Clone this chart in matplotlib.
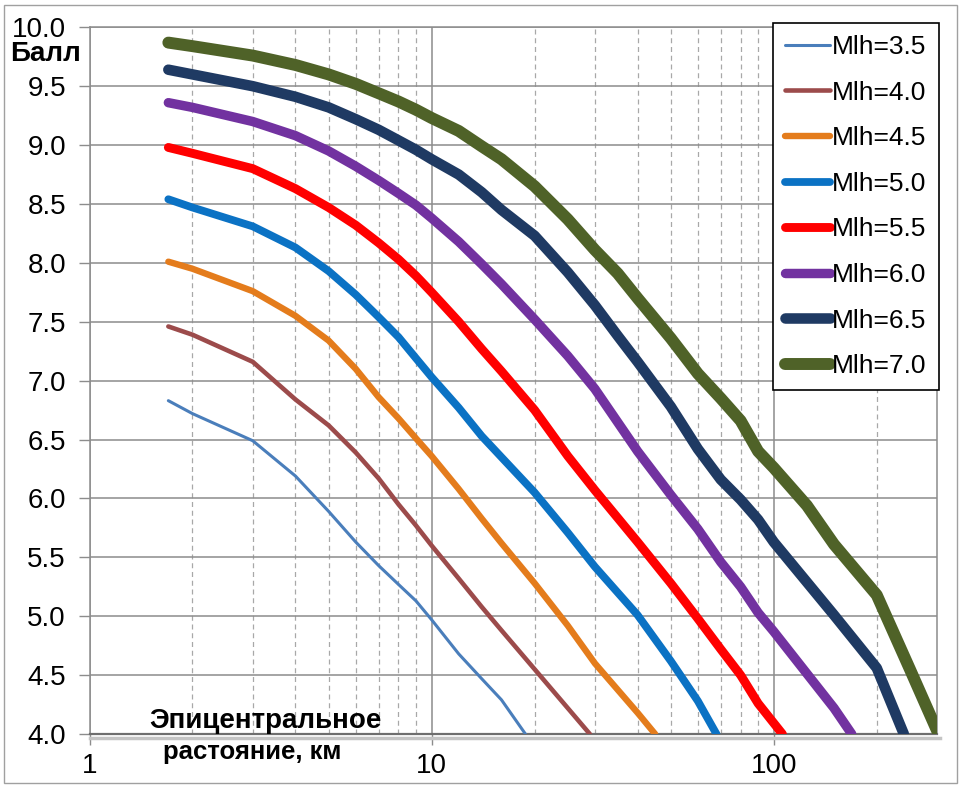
import matplotlib
matplotlib.use('Agg')
import matplotlib.pyplot as plt
import numpy as np
from matplotlib.ticker import FixedLocator, NullFormatter
from matplotlib.patches import Rectangle
from matplotlib.lines import Line2D

plt.rcParams['font.family'] = ['Liberation Sans', 'DejaVu Sans']

# Distances (km) and intensity (ball) for each magnitude
dist_35 = [1.7, 2, 3, 4, 5, 6, 7, 8, 9, 10, 12, 14, 16, 18.8]
ball_35 = [6.83, 6.72, 6.49, 6.19, 5.89, 5.63, 5.43, 5.27, 5.13, 4.97, 4.68, 4.47, 4.29, 4.0]

dist_40 = [1.7, 2, 3, 4, 5, 6, 7, 8, 9, 10, 12, 14, 16, 20, 29]
ball_40 = [7.46, 7.39, 7.16, 6.84, 6.62, 6.39, 6.17, 5.95, 5.77, 5.60, 5.32, 5.08, 4.88, 4.55, 4.0]

dist_45 = [1.7, 2, 3, 4, 5, 6, 7, 8, 9, 10, 12, 14, 16, 20, 25, 30, 40, 45]
ball_45 = [8.01, 7.95, 7.76, 7.55, 7.34, 7.10, 6.86, 6.68, 6.51, 6.36, 6.08, 5.83, 5.62, 5.28, 4.92, 4.60, 4.18, 4.0]

dist_50 = [1.7, 2, 3, 4, 5, 6, 7, 8, 9, 10, 12, 14, 16, 20, 25, 30, 40, 50, 60, 68]
ball_50 = [8.54, 8.47, 8.31, 8.13, 7.93, 7.73, 7.54, 7.37, 7.19, 7.03, 6.77, 6.53, 6.35, 6.05, 5.71, 5.42, 5.01, 4.62, 4.28, 4.0]

dist_55 = [1.7, 2, 3, 4, 5, 6, 7, 8, 9, 10, 12, 14, 16, 20, 25, 30, 40, 50, 60, 70, 80, 90, 106]
ball_55 = [8.98, 8.93, 8.80, 8.63, 8.47, 8.32, 8.17, 8.03, 7.89, 7.75, 7.50, 7.27, 7.08, 6.75, 6.36, 6.07, 5.63, 5.28, 4.98, 4.72, 4.50, 4.26, 4.0]

dist_60 = [1.7, 2, 3, 4, 5, 6, 7, 8, 9, 10, 12, 14, 16, 20, 25, 30, 40, 50, 60, 70, 80, 90, 100, 150, 169]
ball_60 = [9.36, 9.32, 9.20, 9.08, 8.95, 8.82, 8.70, 8.59, 8.49, 8.38, 8.18, 7.99, 7.82, 7.52, 7.21, 6.93, 6.40, 6.03, 5.74, 5.46, 5.25, 5.03, 4.87, 4.22, 4.0]

dist_65 = [1.7, 2, 3, 4, 5, 6, 7, 8, 9, 10, 12, 14, 16, 20, 25, 30, 35, 40, 50, 60, 70, 80, 90, 100, 150, 200, 240]
ball_65 = [9.64, 9.60, 9.50, 9.41, 9.32, 9.22, 9.13, 9.04, 8.96, 8.88, 8.75, 8.60, 8.45, 8.23, 7.92, 7.64, 7.38, 7.16, 6.78, 6.42, 6.16, 5.99, 5.82, 5.63, 5.01, 4.56, 4.0]

dist_70 = [1.7, 2, 3, 4, 5, 6, 7, 8, 9, 10, 12, 14, 16, 20, 25, 30, 35, 40, 50, 60, 70, 80, 90, 100, 125, 150, 200, 250, 300]
ball_70 = [9.87, 9.84, 9.76, 9.68, 9.60, 9.52, 9.44, 9.37, 9.30, 9.23, 9.12, 8.99, 8.88, 8.65, 8.37, 8.11, 7.91, 7.70, 7.36, 7.06, 6.85, 6.66, 6.40, 6.26, 5.94, 5.61, 5.18, 4.55, 4.03]

labels = ['Mlh=3.5', 'Mlh=4.0', 'Mlh=4.5', 'Mlh=5.0', 'Mlh=5.5', 'Mlh=6.0', 'Mlh=6.5', 'Mlh=7.0']
colors = ['#4a7ebb', '#9c4b4b', '#e47c1c', '#0b72c4', '#ff0000', '#7232a0', '#1f3a63', '#4f6228']
widths = [2.2, 3.3, 4.6, 5.6, 6.4, 6.8, 7.6, 8.6]

dists = [dist_35, dist_40, dist_45, dist_50, dist_55, dist_60, dist_65, dist_70]
balls = [ball_35, ball_40, ball_45, ball_50, ball_55, ball_60, ball_65, ball_70]

y_ticks = np.arange(4.0, 10.01, 0.5)
x_ticks = [1, 10, 100]
x_minor = [2, 3, 4, 5, 6, 7, 8, 9, 20, 30, 40, 50, 60, 70, 80, 90, 200]

fig = plt.figure(figsize=(9.61, 7.88), dpi=100)
ax = fig.add_axes([89.5 / 961, 1 - 734 / 788, (937 - 89.5) / 961, (734 - 27.3) / 788])
ax.set_xscale('log')

lines = []
for xs, ys, lab, c, w in zip(dists, balls, labels, colors, widths):
    ln, = ax.plot(xs, ys, color=c, lw=w, label=lab, solid_capstyle='round',
                  solid_joinstyle='round', zorder=3)
    lines.append(ln)

ax.set_xlim(1, 300)
ax.set_ylim(4, 10)

ax.yaxis.set_major_locator(FixedLocator(y_ticks))
ax.set_yticklabels([f'{v:.1f}' for v in y_ticks])
ax.xaxis.set_major_locator(FixedLocator(x_ticks))
ax.set_xticklabels([str(v) for v in x_ticks])
ax.xaxis.set_minor_locator(FixedLocator(x_minor))
ax.xaxis.set_minor_formatter(NullFormatter())
ax.yaxis.set_minor_locator(FixedLocator([]))

ax.tick_params(axis='both', which='major', labelsize=20, length=8, width=1, color='#8c8c8c')
ax.tick_params(axis='y', which='major', pad=9)
ax.tick_params(axis='x', which='major', pad=6)
ax.tick_params(axis='x', which='minor', length=0)

ax.set_axisbelow(True)
ax.grid(True, which='major', axis='both', color='#8c8c8c', lw=1.1)
ax.grid(True, which='minor', axis='x', color='#a8a8a8', lw=0.9, ls=(0, (4, 3)))
for sp in ax.spines.values():
    sp.set_color('#8c8c8c')
    sp.set_linewidth(1.1)
ax.spines['bottom'].set_color('#6e6e6e')
ax.spines['bottom'].set_linewidth(1.6)

# soft shadow under the x axis
fig.lines.append(Line2D([89.5 / 961, 940 / 961], [1 - 738 / 788, 1 - 738 / 788],
                        transform=fig.transFigure, color='#c4c4c4', lw=2.5, zorder=0))

fig.text(46 / 961, 1 - 54 / 788, 'Балл', ha='center', va='center', fontsize=20, fontweight='bold')
fig.text(265 / 961, 1 - 721 / 788, 'Эпицентральное', ha='center', va='center', fontsize=20, fontweight='bold')
fig.text(252 / 961, 1 - 752 / 788, 'растояние, км', ha='center', va='center', fontsize=18.5, fontweight='bold')

leg = fig.legend(handles=lines, loc='upper left', bbox_to_anchor=(773 / 961, 1 - 23 / 788),
                 fontsize=19, frameon=True, fancybox=False, edgecolor='black', framealpha=1,
                 handlelength=1.7, handletextpad=0.1, labelspacing=0.82, borderpad=0.45,
                 borderaxespad=0)
leg.get_frame().set_linewidth(1.2)

fig.patches.append(Rectangle((4 / 961, 5 / 788), 953 / 961, 778 / 788, transform=fig.transFigure,
                             fill=False, edgecolor='#a0a0a0', lw=1))

fig.savefig('out.png', dpi=100)
